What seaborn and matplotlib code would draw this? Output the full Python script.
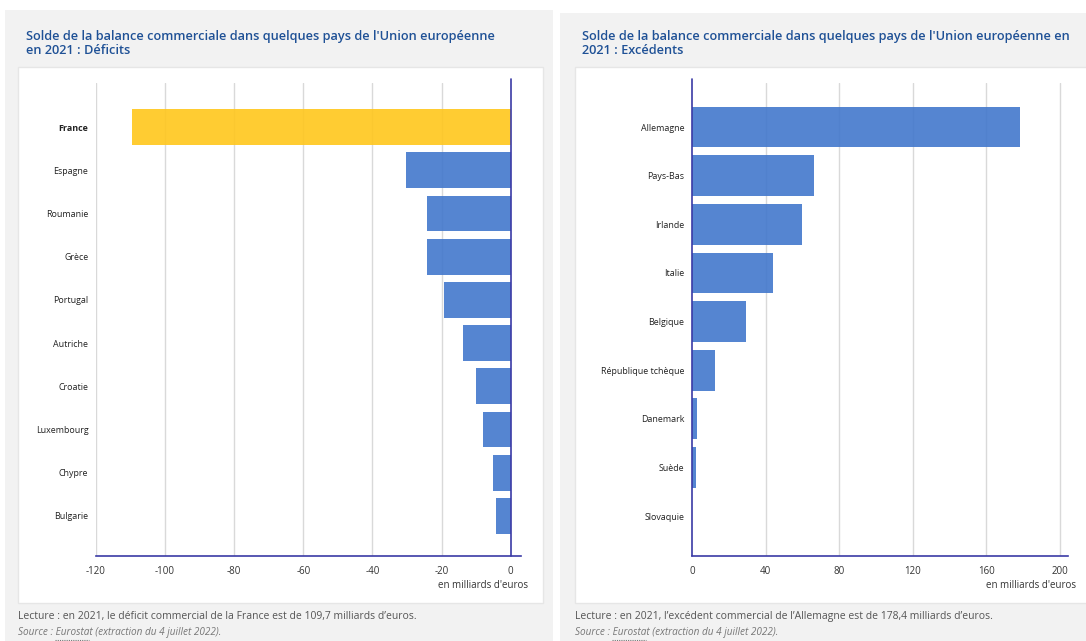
import matplotlib
matplotlib.use("Agg")
import matplotlib.pyplot as plt
from matplotlib.patches import Rectangle
from matplotlib.lines import Line2D
import seaborn as sns
import pandas as pd

sns.set_theme(style="white")
plt.rcParams["font.family"] = ["Open Sans", "DejaVu Sans"]

# Déficits (milliards d'euros)
deficit_pays = ["France", "Espagne", "Roumanie", "Grèce", "Portugal",
                "Autriche", "Croatie", "Luxembourg", "Chypre", "Bulgarie"]
deficit_solde = [-109.7, -30.2, -24.3, -24.3, -19.4,
                 -13.9, -9.9, -7.9, -5.2, -4.3]

# Excédents (milliards d'euros)
excedent_pays = ["Allemagne", "Pays-Bas", "Irlande", "Italie", "Belgique",
                 "République tchèque", "Danemark", "Suède", "Slovaquie"]
excedent_solde = [178.4, 66.2, 59.6, 44.1, 29.5, 12.7, 2.8, 2.2, 0.2]

deficit_ticks = [-120, -100, -80, -60, -40, -20, 0]
excedent_ticks = [0, 40, 80, 120, 160, 200]

titre_deficits = ("Solde de la balance commerciale dans quelques pays de l'Union européenne\n"
                  "en 2021 : Déficits")
titre_excedents = ("Solde de la balance commerciale dans quelques pays de l'Union européenne en\n"
                   "2021 : Excédents")
lecture_deficits = "Lecture : en 2021, le déficit commercial de la France est de 109,7 milliards d’euros."
lecture_excedents = "Lecture : en 2021, l’excédent commercial de l’Allemagne est de 178,4 milliards d’euros."
source_txt = "Source : Eurostat (extraction du 4 juillet 2022)."
unite = "en milliards d'euros"

BLUE = "#4278cc"
YELLOW = "#ffc71c"
NAVY = "#3b3ba6"
GRID = "#d9d9d9"
PANEL = "#f2f2f2"
TITLE = "#1f5196"
TXT = "#333333"
NOTE = "#555555"

W, H = 1086, 641
fig = plt.figure(figsize=(W / 100, H / 100), dpi=100)
fig.patch.set_facecolor("white")


def fx(px):
    return px / W


def fy(py):
    return 1 - py / H


def rect_px(x0, y0, x1, y1, color, z=0, edge="none"):
    fig.patches.append(Rectangle((fx(x0), fy(y1)), fx(x1) - fx(x0), fy(y0) - fy(y1),
                                 transform=fig.transFigure, facecolor=color,
                                 edgecolor=edge, lw=1, zorder=z))


# grey panels and white chart boxes
rect_px(5, 10, 553, 641, PANEL, -2)
rect_px(560, 13, 1086, 641, PANEL, -2)
rect_px(18, 67, 543, 603, "white", -1, "#e6e6e6")
rect_px(575, 67, 1090, 603, "white", -1, "#e6e6e6")


def make_axes(x0, x1, y0, y1):
    ax = fig.add_axes([fx(x0), fy(y1), fx(x1) - fx(x0), fy(y0) - fy(y1)])
    ax.set_facecolor("none")
    ax.set_zorder(2)
    return ax


# ---------- Déficits ----------
axL = make_axes(96, 521, 83, 556)
dfL = pd.DataFrame({"pays": deficit_pays, "solde": deficit_solde})
palL = {p: (YELLOW if p == "France" else BLUE) for p in deficit_pays}
sns.barplot(data=dfL, x="solde", y="pays", hue="pays", palette=palL, legend=False,
            orient="h", width=0.83, alpha=0.9, saturation=1, linewidth=0, ax=axL)
axL.set_xlim(-120, 3)
axL.set_ylim(len(deficit_pays) - 0.07, -1.02)
axL.set_xticks(deficit_ticks)
axL.set_xticklabels([str(t) for t in deficit_ticks])
for t in deficit_ticks[:-1]:
    axL.axvline(t, color=GRID, lw=1, zorder=0)
axL.axvline(0, ymin=0, ymax=1.008, color=NAVY, lw=1.2, zorder=3, clip_on=False)

# ---------- Excédents ----------
axR = make_axes(692, 1068, 83, 556)
dfR = pd.DataFrame({"pays": excedent_pays, "solde": excedent_solde})
sns.barplot(data=dfR, x="solde", y="pays", color=BLUE, orient="h", width=0.84,
            alpha=0.9, saturation=1, linewidth=0, ax=axR)
axR.set_xlim(0, 204.5)
axR.set_ylim(len(excedent_pays) - 0.18, -0.905)
axR.set_xticks(excedent_ticks)
axR.set_xticklabels([str(t) for t in excedent_ticks])
for t in excedent_ticks[1:]:
    axR.axvline(t, color=GRID, lw=1, zorder=0)
axR.axvline(0, ymin=0, ymax=1.008, color=NAVY, lw=1.2, zorder=3, clip_on=False)

for ax in (axL, axR):
    ax.set_xlabel("")
    ax.set_ylabel("")
    for s in ("top", "right", "left"):
        ax.spines[s].set_visible(False)
    ax.spines["bottom"].set_color(NAVY)
    ax.spines["bottom"].set_linewidth(1.2)
    ax.tick_params(axis="x", length=0, pad=7, labelsize=7, labelcolor=TXT)
    ax.tick_params(axis="y", length=0, pad=5.5, labelsize=6.4, labelcolor="#222222")

for lbl in axL.get_yticklabels():
    if lbl.get_text() == "France":
        lbl.set_fontweight("bold")

# titles, units, notes
for x0, titre in ((26, titre_deficits), (582, titre_excedents)):
    fig.text(fx(x0), fy(30), titre, ha="left", va="top", fontsize=9.2,
             fontweight="semibold", color=TITLE, linespacing=1.05)

fig.text(fx(528), fy(586), unite, ha="right", va="center", fontsize=7, color=TXT)
fig.text(fx(1076), fy(586), unite, ha="right", va="center", fontsize=7, color=TXT)

for x0, lecture in ((18, lecture_deficits), (575, lecture_excedents)):
    fig.text(fx(x0), fy(616), lecture, ha="left", va="center", fontsize=7.5, color=NOTE)
    fig.text(fx(x0), fy(633), source_txt, ha="left", va="center", fontsize=7.2,
             color="#777777", style="italic")
    fig.lines.append(Line2D([fx(x0 + 37), fx(x0 + 71)], [fy(639.5), fy(639.5)],
                            transform=fig.transFigure, color="#777777", lw=0.8,
                            linestyle=(0, (1, 1))))

fig.savefig("out.png", dpi=100, facecolor="white")
